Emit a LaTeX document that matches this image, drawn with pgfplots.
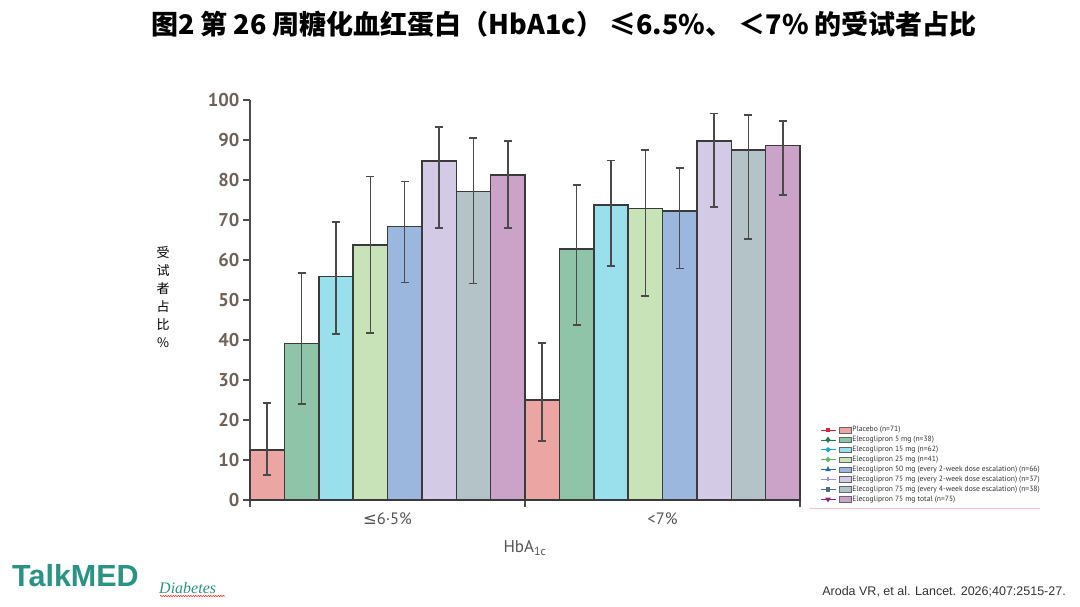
\documentclass[border=0pt]{standalone}
\usepackage{fontspec}
\usepackage{pgfplots}
\pgfplotsset{compat=1.18}
\usetikzlibrary{decorations.pathmorphing}
\setmainfont{PT Sans}
\newfontfamily\cjk{Noto Sans CJK SC}
\newfontfamily\djv{DejaVu Sans}
\newfontfamily\lib{Liberation Sans}
\newfontfamily\libserif{Liberation Serif}
\definecolor{cPla}{HTML}{EBA5A3}
\definecolor{cA}{HTML}{8FC4A8}
\definecolor{cB}{HTML}{9ADFEC}
\definecolor{cC}{HTML}{C8E3B8}
\definecolor{cD}{HTML}{9BB7DE}
\definecolor{cE}{HTML}{D3CAE6}
\definecolor{cF}{HTML}{B4C3C8}
\definecolor{cG}{HTML}{CBA3C8}
\definecolor{mPla}{HTML}{D6263B}
\definecolor{mA}{HTML}{1F7A50}
\definecolor{mB}{HTML}{19A8C9}
\definecolor{mC}{HTML}{5CB85C}
\definecolor{mD}{HTML}{2B6CB0}
\definecolor{mE}{HTML}{A38FCF}
\definecolor{mF}{HTML}{4F6F7A}
\definecolor{mG}{HTML}{8B2A7A}
\definecolor{axc}{HTML}{4D4D4D}
\definecolor{barc}{HTML}{3A3A3A}
\definecolor{errc}{HTML}{4A4A4A}
\definecolor{ytc}{HTML}{6E6258}
\definecolor{labc}{HTML}{555555}
\definecolor{legc}{HTML}{333333}
\definecolor{teal}{HTML}{2B9384}
\definecolor{pinkline}{HTML}{F2C4C8}

\pgfplotsset{
  mybar/.style={ybar, bar width=1, bar shift=0pt, fill=#1, draw=barc, line width=1.5pt,
    error bars/y dir=both, error bars/y explicit,
    error bars/error bar style={draw=errc, line width=1.6pt},
    error bars/error mark options={rotate=90, draw=errc, line width=1.6pt, mark size=4pt}},
  legimg/.style n args={3}{legend image code/.code={
    \draw[draw=#1, line width=0.6pt] (0pt,0pt) -- (15pt,0pt);
    \draw[color=#1, fill=#1, only marks, #2] plot coordinates {(7.5pt,0pt)};
    \draw[fill=#3, draw=black!60, line width=0.4pt] (19pt,-2.8pt) rectangle (31pt,2.8pt);
  }},
}

\begin{document}
\begin{tikzpicture}
\path[use as bounding box, fill=white] (0pt,0pt) rectangle (1080pt,606pt);

\node[font=\cjk\bfseries\fontsize{27}{30}\selectfont, anchor=center, inner sep=0] at (564pt,581.5pt)
  {图2 第 26 周糖化血红蛋白（HbA1c） ≤6.5\%、 ＜7\% 的受试者占比};

\node[font=\cjk\fontsize{13}{18}\selectfont, align=center, inner sep=0] at (163pt,308.5pt)
  {受\\试\\者\\占\\比\\\%};

\begin{axis}[
  at={(250pt,106pt)}, anchor=south west,
  scale only axis, width=550pt, height=400pt,
  xmin=0, xmax=16, ymin=0, ymax=100,
  axis lines=left,
  axis line style={-, draw=axc, line width=1.6pt},
  tick align=outside,
  tick style={draw=axc, line width=1.4pt},
  major tick length=7pt,
  /pgf/number format/assume math mode=true,
  ytick={0,10,...,100},
  xtick={0,8,16},
  xticklabels={},
  extra x ticks={4,12},
  extra x tick labels={{\djv≤}6·5\%,<7\%},
  extra x tick style={major tick length=0pt,
     tick label style={font=\fontsize{16.5}{16.5}\selectfont, text=labc, yshift=-9pt}},
  y tick label style={font=\bfseries\fontsize{18.5}{18.5}\selectfont, text=ytc},
  xlabel={HbA\textsubscript{1c}},
  xlabel style={at={(axis description cs:0.5,-0.12)}, anchor=center,
     font=\fontsize{17}{17}\selectfont, text=labc},
  legend style={at={(1.0364,0.186)}, anchor=north west, draw=none, fill=none,
     font=\fontsize{7.6}{7.6}\selectfont, text=legc, row sep=1.6pt, inner sep=0pt,
     nodes={inner sep=0.6pt, text height=5.6pt, text depth=1.5pt}},
  legend cell align=left,
  clip=false,
]
\addplot[legimg={mPla}{mark=square*, mark size=1.6pt}{cPla}, mybar=cPla] coordinates {
  (0.5,12.5) += (0,11.7) -= (0,6.3)
  (8.5,25.0) += (0,14.2) -= (0,10.3)
};
\addlegendentry{Placebo (n=71)}
\addplot[legimg={mA}{mark=diamond*, mark size=1.9pt}{cA}, mybar=cA] coordinates {
  (1.5,39.1) += (0,17.6) -= (0,15.1)
  (9.5,62.8) += (0,15.9) -= (0,19.0)
};
\addlegendentry{Elecoglipron 5 mg (n=38)}
\addplot[legimg={mB}{mark=*, mark size=1.7pt}{cB}, mybar=cB] coordinates {
  (2.5,55.9) += (0,13.6) -= (0,14.4)
  (10.5,73.8) += (0,11.1) -= (0,15.3)
};
\addlegendentry{Elecoglipron 15 mg (n=62)}
\addplot[legimg={mC}{mark=*, mark size=1.7pt}{cC}, mybar=cC] coordinates {
  (3.5,63.7) += (0,17.2) -= (0,21.9)
  (11.5,72.9) += (0,14.6) -= (0,21.9)
};
\addlegendentry{Elecoglipron 25 mg (n=41)}
\addplot[legimg={mD}{mark=triangle*, mark size=1.8pt}{cD}, mybar=cD] coordinates {
  (4.5,68.4) += (0,11.2) -= (0,14.0)
  (12.5,72.3) += (0,10.7) -= (0,14.4)
};
\addlegendentry{Elecoglipron 50 mg (every 2-week dose escalation) (n=66)}
\addplot[legimg={mE}{mark=+, mark size=2pt}{cE}, mybar=cE] coordinates {
  (5.5,84.7) += (0,8.6) -= (0,16.7)
  (13.5,89.8) += (0,6.8) -= (0,16.5)
};
\addlegendentry{Elecoglipron 75 mg (every 2-week dose escalation) (n=37)}
\addplot[legimg={mF}{mark=square*, mark size=1.6pt}{cF}, mybar=cF] coordinates {
  (6.5,77.1) += (0,13.4) -= (0,23.0)
  (14.5,87.5) += (0,8.7) -= (0,22.3)
};
\addlegendentry{Elecoglipron 75 mg (every 4-week dose escalation) (n=38)}
\addplot[legimg={mG}{mark=triangle*, mark size=1.8pt, mark options={rotate=180}}{cG}, mybar=cG] coordinates {
  (7.5,81.2) += (0,8.6) -= (0,13.2)
  (15.5,88.6) += (0,6.2) -= (0,12.3)
};
\addlegendentry{Elecoglipron 75 mg total (n=75)}
\end{axis}

\draw[draw=pinkline, line width=0.8pt] (810pt,98pt) -- (1040pt,98pt);

\node[anchor=base west, font=\lib\bfseries\fontsize{30.5}{30.5}\selectfont, text=teal, inner sep=0] at (12pt,20pt) {TalkMED};
\node[anchor=base west, font=\libserif\itshape\fontsize{16}{16}\selectfont, text=teal, inner sep=0] at (159pt,13pt) {Diabetes};
\draw[red, line width=0.5pt, decorate, decoration={snake, amplitude=0.6pt, segment length=2.5pt}] (160pt,10pt) -- (225pt,10pt);

\node[anchor=base east, font=\lib\fontsize{12.5}{12.5}\selectfont, text=legc, inner sep=0] at (1066pt,11pt) {Aroda VR, et al. Lancet. 2026;407:2515-27.};
\end{tikzpicture}
\end{document}
